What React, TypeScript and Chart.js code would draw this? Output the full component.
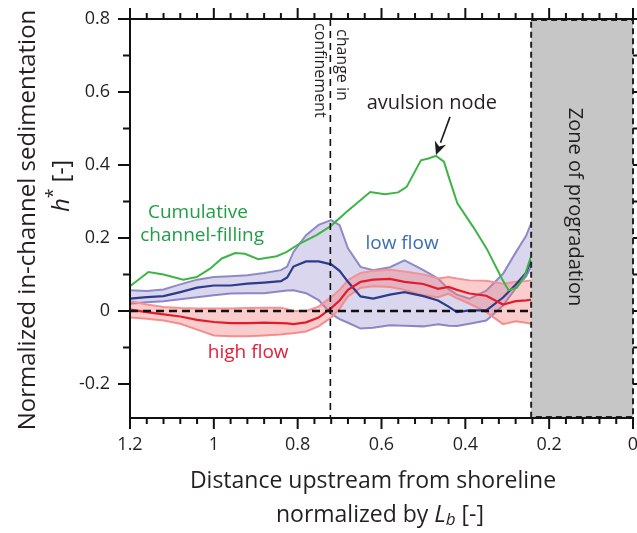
import React, { useEffect, useRef } from "react";
import { Chart, registerables } from "chart.js";

Chart.register(...registerables);

// Distance upstream from the shoreline, normalized by the backwater length (band grid)
const distance = [
  1.2, 1.16, 1.12, 1.08, 1.04, 1.0, 0.96, 0.92, 0.88, 0.84, 0.825, 0.81, 0.78, 0.75, 0.72, 0.7,
  0.68, 0.65, 0.62, 0.58, 0.545, 0.5, 0.465, 0.44, 0.42, 0.39, 0.35, 0.31, 0.28, 0.255, 0.243,
];

// Low-flow in-channel sedimentation h* (mean and envelope)
const lowFlowUpper = [
  0.057, 0.055, 0.059, 0.073, 0.086, 0.093, 0.095, 0.098, 0.104, 0.112, 0.122, 0.162, 0.208, 0.236,
  0.249, 0.235, 0.172, 0.121, 0.112, 0.12, 0.139, 0.112, 0.089, 0.06, 0.045, 0.034, 0.056, 0.102,
  0.16, 0.206, 0.24,
];
const lowFlowMean = [
  0.034, 0.038, 0.041, 0.052, 0.064, 0.07, 0.07, 0.075, 0.078, 0.082, 0.092, 0.122, 0.136, 0.136,
  0.128, 0.11, 0.08, 0.04, 0.034, 0.045, 0.052, 0.041, 0.029, 0.012, -0.003, 0.002, 0.002, 0.037,
  0.072, 0.105, 0.139,
];
const lowFlowLower = [
  0.02, 0.024, 0.027, 0.032, 0.038, 0.043, 0.048, 0.049, 0.049, 0.054, 0.056, 0.057, 0.049, 0.03,
  -0.008, -0.022, -0.032, -0.048, -0.046, -0.039, -0.04, -0.042, -0.036, -0.04, -0.041, -0.035,
  -0.026, 0.015, 0.062, 0.095, 0.121,
];

// High-flow in-channel sedimentation h* (mean and envelope)
const highFlowUpper = [
  0.027, 0.018, 0.011, 0.008, 0.007, 0.007, 0.007, 0.008, 0.009, 0.009, 0.005, 0.0, 0.0, 0.012,
  0.038, 0.058, 0.085, 0.104, 0.11, 0.113, 0.108, 0.1, 0.089, 0.093, 0.089, 0.084, 0.083, 0.075,
  0.08, 0.082, 0.084,
];
const highFlowMean = [
  0.004, -0.003, -0.009, -0.015, -0.024, -0.03, -0.033, -0.033, -0.032, -0.033, -0.034, -0.036,
  -0.031, -0.018, 0.008, 0.029, 0.058, 0.08, 0.086, 0.088, 0.08, 0.074, 0.061, 0.066, 0.058, 0.048,
  0.042, 0.018, 0.027, 0.029, 0.031,
];
const highFlowLower = [
  -0.018, -0.021, -0.026, -0.035, -0.051, -0.067, -0.069, -0.069, -0.067, -0.064, -0.062, -0.061,
  -0.056, -0.042, -0.018, 0.006, 0.04, 0.063, 0.068, 0.066, 0.058, 0.043, 0.038, 0.047, 0.035, 0.02,
  -0.003, -0.036, -0.028, -0.032, -0.035,
];

// Cumulative channel-filling
const fillingDistance = [
  1.2, 1.156, 1.12, 1.073, 1.041, 1.009, 0.981, 0.949, 0.926, 0.894, 0.85, 0.826, 0.795, 0.755,
  0.722, 0.683, 0.627, 0.592, 0.56, 0.54, 0.506, 0.488, 0.47, 0.451, 0.437, 0.419, 0.381, 0.349,
  0.313, 0.297, 0.277, 0.258, 0.244,
];
const fillingValue = [
  0.068, 0.107, 0.1, 0.086, 0.093, 0.116, 0.144, 0.159, 0.157, 0.142, 0.15, 0.162, 0.185, 0.208,
  0.232, 0.272, 0.326, 0.32, 0.325, 0.34, 0.413, 0.418, 0.425, 0.409, 0.358, 0.295, 0.23, 0.171,
  0.089, 0.057, 0.064, 0.098, 0.148,
];

const xTickValues = [0, 0.2, 0.4, 0.6, 0.8, 1.0, 1.2];
const yTickValues = [-0.2, 0, 0.2, 0.4, 0.6, 0.8];
const xMinorStep = 0.04;
const yMinorStep = 0.1;
const xRange = [0, 1.2];
const yRange = [-0.293, 0.8];

const confinementChange = 0.722;
const progradationStart = 0.243;
const avulsionNode = { x: 0.47, y: 0.425 };

const FONT = "'Open Sans', 'Noto Sans', sans-serif";
const INK = "#231f20";

type Part = { text: string; size: number; italic?: boolean; dy?: number };

function drawRich(ctx: CanvasRenderingContext2D, parts: Part[], x: number, y: number) {
  let total = 0;
  for (const p of parts) {
    ctx.font = `${p.italic ? "italic " : ""}${p.size}px ${FONT}`;
    total += ctx.measureText(p.text).width;
  }
  let cx = x - total / 2;
  ctx.textAlign = "left";
  ctx.textBaseline = "middle";
  for (const p of parts) {
    ctx.font = `${p.italic ? "italic " : ""}${p.size}px ${FONT}`;
    ctx.fillText(p.text, cx, y + (p.dy || 0));
    cx += ctx.measureText(p.text).width;
  }
}

const decorations = {
  id: "decorations",
  afterDatasetsDraw(chart: any) {
    const { ctx, chartArea: a, scales } = chart;
    const xs = scales.x;
    const ys = scales.y;
    const px = (v: number) => xs.getPixelForValue(v);
    const py = (v: number) => ys.getPixelForValue(v);
    const boxLeft = px(progradationStart);

    ctx.save();
    ctx.beginPath();
    ctx.rect(a.left, a.top - 2, a.right - a.left + 4, a.bottom - a.top + 4);
    ctx.clip();

    // zero line
    ctx.strokeStyle = "#111";
    ctx.lineWidth = 2.4;
    ctx.setLineDash([8, 5]);
    ctx.beginPath();
    ctx.moveTo(a.left, py(0));
    ctx.lineTo(boxLeft, py(0));
    ctx.stroke();

    // change in confinement
    ctx.lineWidth = 1.6;
    ctx.setLineDash([7, 5]);
    ctx.beginPath();
    ctx.moveTo(px(confinementChange), a.top);
    ctx.lineTo(px(confinementChange), a.bottom);
    ctx.stroke();

    // zone of progradation
    ctx.setLineDash([]);
    ctx.fillStyle = "#c6c6c6";
    ctx.fillRect(boxLeft, a.top, px(0) - boxLeft, a.bottom - a.top);
    ctx.strokeStyle = "#222";
    ctx.lineWidth = 2;
    ctx.setLineDash([6, 4]);
    ctx.strokeRect(boxLeft, a.top + 1, px(0) - boxLeft, a.bottom - a.top - 2);
    ctx.setLineDash([]);
    ctx.restore();

    ctx.save();
    ctx.fillStyle = INK;
    ctx.translate(px(0.138), py(0.285));
    ctx.rotate(Math.PI / 2);
    ctx.font = `20px ${FONT}`;
    ctx.textAlign = "center";
    ctx.textBaseline = "middle";
    ctx.fillText("Zone of progradation", 0, 0);
    ctx.restore();

    // confinement label
    ctx.save();
    ctx.fillStyle = INK;
    ctx.font = `16px ${FONT}`;
    ctx.textAlign = "left";
    ctx.textBaseline = "middle";
    ctx.translate(px(confinementChange) + 11.5, a.top + 10);
    ctx.rotate(Math.PI / 2);
    ctx.fillText("change in", 0, 0);
    ctx.restore();
    ctx.save();
    ctx.fillStyle = INK;
    ctx.font = `16px ${FONT}`;
    ctx.textAlign = "left";
    ctx.textBaseline = "middle";
    ctx.translate(px(confinementChange) - 10.5, a.top + 4);
    ctx.rotate(Math.PI / 2);
    ctx.fillText("confinement", 0, 0);
    ctx.restore();

    // in-plot labels
    ctx.save();
    ctx.textAlign = "center";
    ctx.textBaseline = "middle";
    ctx.font = `20px ${FONT}`;
    ctx.fillStyle = INK;
    ctx.fillText("avulsion node", px(0.48), py(0.57));
    ctx.font = `19px ${FONT}`;
    ctx.fillStyle = "#1f9e45";
    ctx.fillText("Cumulative", px(1.038), py(0.271));
    ctx.fillText("channel-filling", px(1.028), py(0.208));
    ctx.fillStyle = "#3a6db5";
    ctx.fillText("low flow", px(0.551), py(0.186));
    ctx.fillStyle = "#e2203a";
    ctx.fillText("high flow", px(0.918), py(-0.113));
    ctx.restore();

    // arrow to the avulsion node
    const tx = px(avulsionNode.x);
    const ty = py(avulsionNode.y) - 1;
    const sx = tx + 14;
    const sy = ty - 38;
    const ang = Math.atan2(ty - sy, tx - sx);
    const head = 13;
    const hw = 6;
    const bx = tx - head * Math.cos(ang);
    const by = ty - head * Math.sin(ang);
    ctx.save();
    ctx.strokeStyle = "#1a1a1a";
    ctx.fillStyle = "#1a1a1a";
    ctx.lineWidth = 1.6;
    ctx.beginPath();
    ctx.moveTo(sx, sy);
    ctx.lineTo(bx, by);
    ctx.stroke();
    ctx.beginPath();
    ctx.moveTo(tx, ty);
    ctx.lineTo(bx + hw * Math.sin(ang), by - hw * Math.cos(ang));
    ctx.lineTo(tx - (head - 4) * Math.cos(ang), ty - (head - 4) * Math.sin(ang));
    ctx.lineTo(bx - hw * Math.sin(ang), by + hw * Math.cos(ang));
    ctx.closePath();
    ctx.fill();
    ctx.restore();
  },
  afterDraw(chart: any) {
    const { ctx, chartArea: a, scales } = chart;
    const xs = scales.x;
    const ys = scales.y;
    ctx.save();
    ctx.strokeStyle = "#111";
    ctx.lineWidth = 2;
    ctx.lineCap = "butt";
    // frame
    ctx.beginPath();
    ctx.moveTo(a.left, a.top);
    ctx.lineTo(a.right, a.top);
    ctx.moveTo(a.left, a.top - 1);
    ctx.lineTo(a.left, a.bottom + 1);
    ctx.moveTo(a.left, a.bottom);
    ctx.lineTo(a.right + 1, a.bottom);
    ctx.stroke();

    // ticks on all four sides
    const nx = Math.round((xRange[1] - xRange[0]) / xMinorStep);
    for (let i = 0; i <= nx; i++) {
      const v = xRange[0] + i * xMinorStep;
      const major = xTickValues.some((t) => Math.abs(t - v) < 1e-6);
      const x = xs.getPixelForValue(v);
      const len = major ? 11 : 6;
      ctx.beginPath();
      ctx.moveTo(x, a.top);
      ctx.lineTo(x, a.top - len);
      ctx.moveTo(x, a.bottom);
      ctx.lineTo(x, a.bottom + len);
      ctx.stroke();
    }
    for (let v = -0.2; v <= yRange[1] + 1e-6; v += yMinorStep) {
      const major = yTickValues.some((t) => Math.abs(t - v) < 1e-6);
      const y = ys.getPixelForValue(v);
      const len = major ? 12 : 7;
      ctx.beginPath();
      ctx.moveTo(a.left, y);
      ctx.lineTo(a.left - len, y);
      ctx.moveTo(a.right, y);
      ctx.lineTo(a.right + len, y);
      ctx.stroke();
    }
    ctx.restore();

    // axis titles
    ctx.save();
    ctx.fillStyle = INK;
    ctx.translate(28, 220);
    ctx.rotate(-Math.PI / 2);
    drawRich(ctx, [{ text: "Normalized in-channel sedimentation", size: 24 }], 0, 0);
    ctx.restore();
    ctx.save();
    ctx.fillStyle = INK;
    ctx.translate(62, 186);
    ctx.rotate(-Math.PI / 2);
    drawRich(
      ctx,
      [
        { text: "h", size: 24, italic: true },
        { text: "*", size: 18, dy: -8 },
        { text: " [-]", size: 23 },
      ],
      0,
      0
    );
    ctx.restore();
    ctx.save();
    ctx.fillStyle = INK;
    drawRich(ctx, [{ text: "Distance upstream from shoreline", size: 23 }], 373, 481);
    drawRich(
      ctx,
      [
        { text: "normalized by ", size: 23 },
        { text: "L", size: 24, italic: true },
        { text: "b", size: 17, italic: true, dy: 5 },
        { text: " [-]", size: 23 },
      ],
      380,
      515
    );
    ctx.restore();
  },
};

const pts = (xs: number[], ys: number[]) => xs.map((x, i) => ({ x, y: ys[i] }));

export default function App() {
  const ref = useRef<HTMLCanvasElement>(null);

  useEffect(() => {
    const canvas = ref.current;
    if (!canvas) return;
    const chart = new Chart(canvas, {
      type: "line",
      data: {
        datasets: [
          {
            label: "Cumulative channel-filling",
            data: pts(fillingDistance, fillingValue),
            borderColor: "#3db545",
            borderWidth: 2,
            pointRadius: 0,
            fill: false,
            order: 0,
          },
          {
            label: "high flow",
            data: pts(distance, highFlowMean),
            borderColor: "#e31c2c",
            borderWidth: 2.2,
            pointRadius: 0,
            fill: false,
            order: 1,
          },
          {
            label: "low flow",
            data: pts(distance, lowFlowMean),
            borderColor: "#2d3b8c",
            borderWidth: 2.2,
            pointRadius: 0,
            fill: false,
            order: 2,
          },
          {
            label: "high flow upper",
            data: pts(distance, highFlowUpper),
            borderColor: "#f39393",
            backgroundColor: "rgba(244, 120, 120, 0.38)",
            borderWidth: 2,
            pointRadius: 0,
            fill: 4,
            order: 3,
          },
          {
            label: "high flow lower",
            data: pts(distance, highFlowLower),
            borderColor: "#f39393",
            borderWidth: 2,
            pointRadius: 0,
            fill: false,
            order: 4,
          },
          {
            label: "low flow upper",
            data: pts(distance, lowFlowUpper),
            borderColor: "#8e8ac6",
            backgroundColor: "rgba(130, 120, 200, 0.3)",
            borderWidth: 2,
            pointRadius: 0,
            fill: 6,
            order: 5,
          },
          {
            label: "low flow lower",
            data: pts(distance, lowFlowLower),
            borderColor: "#8e8ac6",
            borderWidth: 2,
            pointRadius: 0,
            fill: false,
            order: 6,
          },
        ],
      },
      options: {
        responsive: false,
        animation: false,
        devicePixelRatio: 1,
        layout: { padding: { left: 0, right: 4, top: 19, bottom: 75 } },
        plugins: {
          legend: { display: false },
          tooltip: { enabled: false },
        },
        elements: { line: { tension: 0 } },
        scales: {
          x: {
            type: "linear",
            min: xRange[0],
            max: xRange[1],
            reverse: true,
            grid: { display: false, drawTicks: false },
            border: { display: false },
            afterBuildTicks: (s: any) => {
              s.ticks = xTickValues.map((v) => ({ value: v }));
            },
            afterFit: (s: any) => {
              s.height = 40;
              s.paddingLeft = 0;
              s.paddingRight = 0;
            },
            ticks: {
              padding: 16,
              color: INK,
              font: { family: FONT, size: 18 },
              maxRotation: 0,
              callback: (v: any) => String(Number(Number(v).toFixed(2))),
            },
          },
          y: {
            type: "linear",
            min: yRange[0],
            max: yRange[1],
            grid: { display: false, drawTicks: false },
            border: { display: false },
            afterBuildTicks: (s: any) => {
              s.ticks = yTickValues.map((v) => ({ value: v }));
            },
            afterFit: (s: any) => {
              s.width = 130;
              s.paddingTop = 0;
              s.paddingBottom = 0;
            },
            ticks: {
              padding: 20,
              color: INK,
              font: { family: FONT, size: 18 },
              callback: (v: any) => String(Number(Number(v).toFixed(2))),
            },
          },
        },
      },
      plugins: [decorations],
    });
    return () => chart.destroy();
  }, []);

  return (
    <div style={{ position: "fixed", left: 0, top: 0, width: 637, height: 533, background: "#fff" }}>
      <canvas ref={ref} width={637} height={533} style={{ display: "block" }} />
    </div>
  );
}
